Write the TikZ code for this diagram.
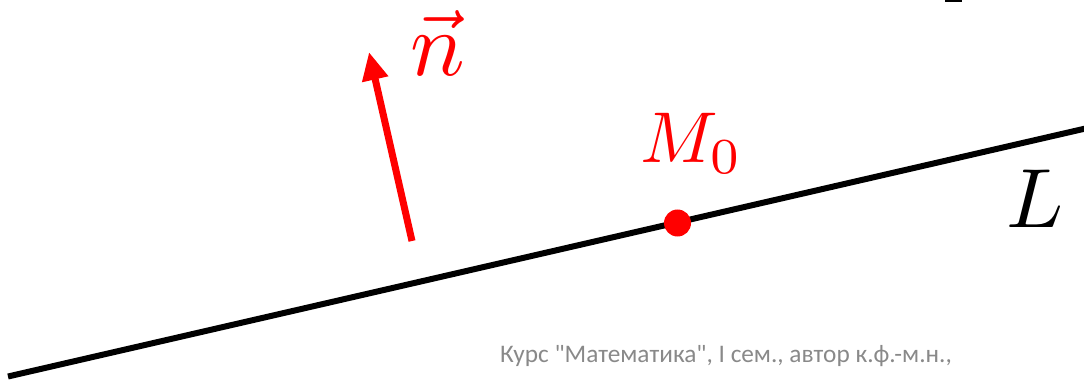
\documentclass[tikz,border=0pt]{standalone}
\usepackage{amsmath}
\usepackage{fontspec}
\newfontfamily\footfont{Carlito}
\usepackage{tikz}
\usetikzlibrary{arrows.meta}
\definecolor{cred}{RGB}{255,0,0}
\definecolor{cfoot}{RGB}{137,137,137}

\begin{document}
\begin{tikzpicture}[x=1pt,y=-1pt,line cap=butt,line join=round,
  lineL/.style={black,line width=6pt},
  normal/.style={cred,line width=7pt,-{Triangle[length=28pt,width=25pt]}},
  mlabel/.style={inner sep=0pt,anchor=base west}]
\useasboundingbox (0,0) rectangle (1084,382);

% =============================== nodes ================================
\coordinate (Lbeg) at (8,376.5);
\coordinate (Lend) at (1092,127);
\coordinate (M0)   at (677.5,223);
\coordinate (Ntail) at (412,241);
\coordinate (Ntip)  at (369,52);

% =============================== lines ================================
\draw[lineL] (Lbeg) -- (Lend);
\draw[normal] (Ntail) -- (Ntip);
\fill[cred] (M0) circle (13.5pt);

% piece of a glyph cut by the upper edge
\fill[black] (945,0) rectangle (962,2.2);

% =============================== labels ===============================
\node[mlabel,cred] (nlab) at (410,76) {\scalebox{9.1}{$\vec{n}$}};
\node[mlabel,cred] (Mlab) at (640,163) {\scalebox{7.2}{$M_0$}};
\node[mlabel] (Llab) at (1006,227) {\scalebox{8.4}{$L$}};
\node[mlabel,cfoot] (foot) at (500,362)
  {\fontsize{25.3}{25.3}\footfont Курс "Математика", I сем., автор к.ф.-м.н.,};

\end{tikzpicture}
\end{document}
